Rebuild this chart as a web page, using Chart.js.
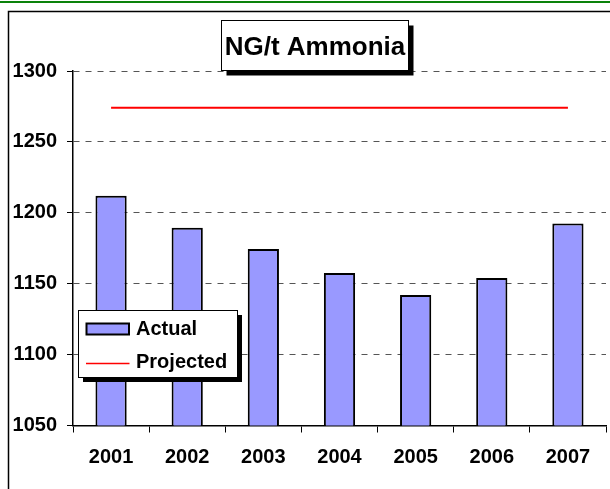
<!DOCTYPE html>
<html>
<head>
<meta charset="utf-8">
<script src="https://cdn.jsdelivr.net/npm/chart.js@4/dist/chart.umd.min.js"></script>
<style>
  html, body { margin: 0; padding: 0; background: #fff; }
  #wrap { width: 610px; height: 489px; }
</style>
</head>
<body>
<div id="wrap"><canvas id="c" width="610" height="489"></canvas></div>
<script>
const chartTitle = 'NG/t Ammonia';
const categories = ['2001', '2002', '2003', '2004', '2005', '2006', '2007'];
const actualValues = [1212, 1189.5, 1174.5, 1157.5, 1142, 1154, 1192.5];
const projectedValues = [1274, 1274, 1274, 1274, 1274, 1274, 1274];
const seriesNames = ['Actual', 'Projected'];
const yMin = 1050, yMax = 1300, yStep = 50;

const FONT = '"Liberation Sans", Arial, sans-serif';

const decorPlugin = {
  id: 'decor',
  beforeDraw(chart) {
    const ctx = chart.ctx;
    ctx.save();
    ctx.fillStyle = '#ffffff';
    ctx.fillRect(0, 0, chart.width, chart.height);
    ctx.fillStyle = '#0a820a';
    ctx.fillRect(0, 1, chart.width, 2);
    ctx.strokeStyle = '#000000';
    ctx.lineWidth = 1.5;
    ctx.beginPath();
    ctx.moveTo(8.5, chart.height);
    ctx.lineTo(8.5, 11.5);
    ctx.lineTo(chart.width, 11.5);
    ctx.stroke();
    ctx.restore();
  },
  afterDraw(chart) {
    const ctx = chart.ctx;
    ctx.save();
    // Title box
    const tb = { x: 221.5, y: 20.5, w: 187, h: 50 };
    ctx.fillStyle = '#000';
    ctx.fillRect(tb.x + 5, tb.y + 5, tb.w, tb.h);
    ctx.fillStyle = '#fff';
    ctx.fillRect(tb.x, tb.y, tb.w, tb.h);
    ctx.strokeStyle = '#000';
    ctx.lineWidth = 1;
    ctx.strokeRect(tb.x, tb.y, tb.w, tb.h);
    ctx.fillStyle = '#000';
    ctx.font = 'bold 26px ' + FONT;
    ctx.textAlign = 'center';
    ctx.textBaseline = 'alphabetic';
    ctx.fillText(chartTitle, tb.x + tb.w / 2, 55);

    // Legend box
    const lb = { x: 78.5, y: 310.5, w: 159, h: 67 };
    ctx.fillStyle = '#000';
    ctx.fillRect(lb.x + 4.5, lb.y + 4.5, lb.w, lb.h);
    ctx.fillStyle = '#fff';
    ctx.fillRect(lb.x, lb.y, lb.w, lb.h);
    ctx.strokeStyle = '#000';
    ctx.lineWidth = 1;
    ctx.strokeRect(lb.x, lb.y, lb.w, lb.h);

    const ds = chart.data.datasets;
    ctx.fillStyle = ds[0].backgroundColor;
    ctx.fillRect(86.5, 323.5, 42.5, 11);
    ctx.strokeStyle = '#000';
    ctx.lineWidth = 2;
    ctx.strokeRect(86.5, 323.5, 42.5, 11);
    ctx.strokeStyle = ds[1].borderColor;
    ctx.lineWidth = 1.5;
    ctx.beginPath();
    ctx.moveTo(86, 363.5);
    ctx.lineTo(129.5, 363.5);
    ctx.stroke();

    ctx.fillStyle = '#000';
    ctx.font = 'bold 20px ' + FONT;
    ctx.textAlign = 'left';
    ctx.fillText(ds[0].label, 136, 335);
    ctx.fillText(ds[1].label, 136, 368);
    ctx.restore();
  }
};

new Chart(document.getElementById('c'), {
  type: 'bar',
  data: {
    labels: categories,
    datasets: [
      {
        type: 'bar',
        label: seriesNames[0],
        data: actualValues,
        backgroundColor: '#9999ff',
        borderColor: '#000000',
        borderWidth: 2,
        borderSkipped: false,
        barPercentage: 0.41,
        categoryPercentage: 1.0
      },
      {
        type: 'line',
        label: seriesNames[1],
        data: projectedValues,
        borderColor: '#ff0000',
        borderWidth: 2,
        pointRadius: 0,
        fill: false,
        tension: 0
      }
    ]
  },
  options: {
    responsive: false,
    animation: false,
    devicePixelRatio: 1,
    layout: { padding: { left: 0, top: 71, right: 4, bottom: 0 } },
    plugins: {
      legend: { display: false },
      title: { display: false },
      tooltip: { enabled: false }
    },
    scales: {
      x: {
        offset: true,
        grid: {
          display: true,
          drawOnChartArea: false,
          drawTicks: true,
          tickLength: 7,
          tickColor: '#000',
          tickWidth: 1,
          offset: true
        },
        border: { display: true, color: '#000', width: 1.5 },
        ticks: {
          color: '#000',
          padding: 13,
          font: { family: FONT, size: 20, weight: 'bold' },
          maxRotation: 0
        },
        afterFit(scale) { scale.height = 63.5; }
      },
      y: {
        min: yMin,
        max: yMax,
        grid: {
          color: '#555',
          lineWidth: 1,
          tickLength: 6,
          tickColor: '#000',
          tickWidth: 1
        },
        border: { display: true, color: '#000', width: 1.5, dash: [6, 6] },
        ticks: {
          stepSize: yStep,
          color: '#000',
          padding: 10,
          font: { family: FONT, size: 20, weight: 'bold' },
          callback: (v) => String(v)
        },
        afterFit(scale) { scale.width = 73; }
      }
    }
  },
  plugins: [decorPlugin]
});
</script>
</body>
</html>
